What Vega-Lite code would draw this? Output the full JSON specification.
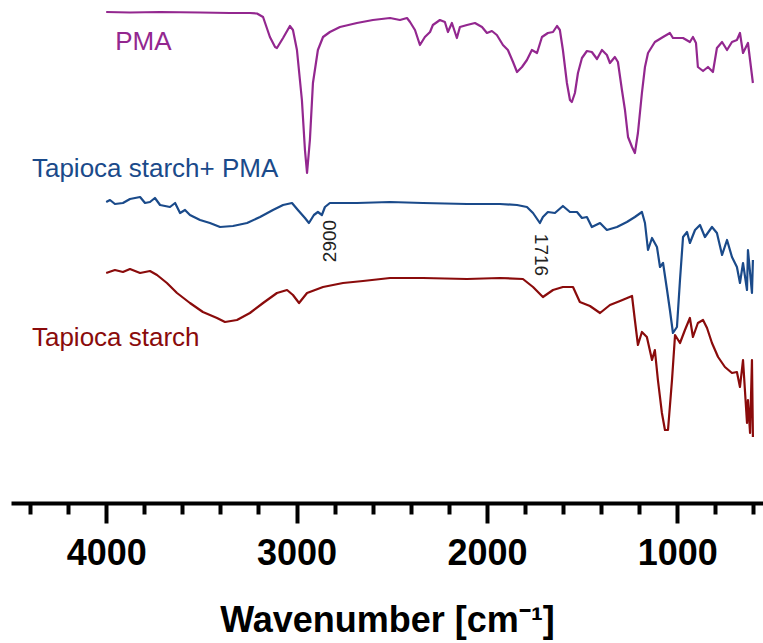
{
  "$schema": "https://vega.github.io/schema/vega-lite/v6.json",
  "width": 752,
  "height": 503,
  "autosize": {"type": "none"},
  "padding": {"left": 11, "top": 0, "right": 0, "bottom": 140},
  "background": "white",
  "config": {"view": {"stroke": null}, "font": "Liberation Sans"},
  "datasets": {
    "spectra": [
      {"series": "PMA", "wn": 4000, "t": 491}, {"series": "PMA", "wn": 3875, "t": 490.5}, {"series": "PMA", "wn": 3717, "t": 491}, {"series": "PMA", "wn": 3507, "t": 490.5}, {"series": "PMA", "wn": 3350, "t": 490}, {"series": "PMA", "wn": 3245, "t": 490}, {"series": "PMA", "wn": 3208, "t": 489.5}, {"series": "PMA", "wn": 3176, "t": 486}, {"series": "PMA", "wn": 3140, "t": 466}, {"series": "PMA", "wn": 3113, "t": 456}, {"series": "PMA", "wn": 3103, "t": 455}, {"series": "PMA", "wn": 3071, "t": 465}, {"series": "PMA", "wn": 3035, "t": 477}, {"series": "PMA", "wn": 3019, "t": 473}, {"series": "PMA", "wn": 2998, "t": 453}, {"series": "PMA", "wn": 2972, "t": 403}, {"series": "PMA", "wn": 2956, "t": 353}, {"series": "PMA", "wn": 2945, "t": 330}, {"series": "PMA", "wn": 2930, "t": 363}, {"series": "PMA", "wn": 2914, "t": 420}, {"series": "PMA", "wn": 2888, "t": 453}, {"series": "PMA", "wn": 2861, "t": 466}, {"series": "PMA", "wn": 2825, "t": 471}, {"series": "PMA", "wn": 2772, "t": 476}, {"series": "PMA", "wn": 2683, "t": 480}, {"series": "PMA", "wn": 2599, "t": 483}, {"series": "PMA", "wn": 2509, "t": 485}, {"series": "PMA", "wn": 2457, "t": 483}, {"series": "PMA", "wn": 2420, "t": 485}, {"series": "PMA", "wn": 2404, "t": 481}, {"series": "PMA", "wn": 2378, "t": 473}, {"series": "PMA", "wn": 2352, "t": 458}, {"series": "PMA", "wn": 2326, "t": 466}, {"series": "PMA", "wn": 2299, "t": 471}, {"series": "PMA", "wn": 2284, "t": 478}, {"series": "PMA", "wn": 2247, "t": 483}, {"series": "PMA", "wn": 2221, "t": 481}, {"series": "PMA", "wn": 2205, "t": 471}, {"series": "PMA", "wn": 2184, "t": 480}, {"series": "PMA", "wn": 2158, "t": 465}, {"series": "PMA", "wn": 2142, "t": 476}, {"series": "PMA", "wn": 2105, "t": 478}, {"series": "PMA", "wn": 2063, "t": 480}, {"series": "PMA", "wn": 2026, "t": 476}, {"series": "PMA", "wn": 2000, "t": 470}, {"series": "PMA", "wn": 1974, "t": 472}, {"series": "PMA", "wn": 1948, "t": 468}, {"series": "PMA", "wn": 1916, "t": 458}, {"series": "PMA", "wn": 1890, "t": 453}, {"series": "PMA", "wn": 1863, "t": 441}, {"series": "PMA", "wn": 1842, "t": 431}, {"series": "PMA", "wn": 1816, "t": 436}, {"series": "PMA", "wn": 1790, "t": 443}, {"series": "PMA", "wn": 1764, "t": 453}, {"series": "PMA", "wn": 1737, "t": 450}, {"series": "PMA", "wn": 1711, "t": 466}, {"series": "PMA", "wn": 1680, "t": 470}, {"series": "PMA", "wn": 1653, "t": 471}, {"series": "PMA", "wn": 1632, "t": 477}, {"series": "PMA", "wn": 1617, "t": 473}, {"series": "PMA", "wn": 1601, "t": 453}, {"series": "PMA", "wn": 1580, "t": 420}, {"series": "PMA", "wn": 1564, "t": 403}, {"series": "PMA", "wn": 1554, "t": 401}, {"series": "PMA", "wn": 1538, "t": 410}, {"series": "PMA", "wn": 1522, "t": 430}, {"series": "PMA", "wn": 1501, "t": 445}, {"series": "PMA", "wn": 1475, "t": 452}, {"series": "PMA", "wn": 1449, "t": 451}, {"series": "PMA", "wn": 1422, "t": 444}, {"series": "PMA", "wn": 1396, "t": 453}, {"series": "PMA", "wn": 1370, "t": 448}, {"series": "PMA", "wn": 1354, "t": 440}, {"series": "PMA", "wn": 1328, "t": 446}, {"series": "PMA", "wn": 1312, "t": 441}, {"series": "PMA", "wn": 1291, "t": 413}, {"series": "PMA", "wn": 1275, "t": 393}, {"series": "PMA", "wn": 1259, "t": 366}, {"series": "PMA", "wn": 1238, "t": 356}, {"series": "PMA", "wn": 1223, "t": 350}, {"series": "PMA", "wn": 1207, "t": 370}, {"series": "PMA", "wn": 1186, "t": 410}, {"series": "PMA", "wn": 1170, "t": 436}, {"series": "PMA", "wn": 1154, "t": 450}, {"series": "PMA", "wn": 1118, "t": 461}, {"series": "PMA", "wn": 1075, "t": 466}, {"series": "PMA", "wn": 1039, "t": 470}, {"series": "PMA", "wn": 1023, "t": 465}, {"series": "PMA", "wn": 970, "t": 465}, {"series": "PMA", "wn": 934, "t": 461}, {"series": "PMA", "wn": 918, "t": 466}, {"series": "PMA", "wn": 902, "t": 460}, {"series": "PMA", "wn": 892, "t": 436}, {"series": "PMA", "wn": 865, "t": 432}, {"series": "PMA", "wn": 839, "t": 436}, {"series": "PMA", "wn": 813, "t": 431}, {"series": "PMA", "wn": 792, "t": 455}, {"series": "PMA", "wn": 765, "t": 461}, {"series": "PMA", "wn": 739, "t": 453}, {"series": "PMA", "wn": 713, "t": 461}, {"series": "PMA", "wn": 687, "t": 463}, {"series": "PMA", "wn": 671, "t": 470}, {"series": "PMA", "wn": 655, "t": 450}, {"series": "PMA", "wn": 629, "t": 460}, {"series": "PMA", "wn": 603, "t": 420},

      {"series": "Tapioca starch+ PMA", "wn": 4000, "t": 301}, {"series": "Tapioca starch+ PMA", "wn": 3980, "t": 303}, {"series": "Tapioca starch+ PMA", "wn": 3954, "t": 299}, {"series": "Tapioca starch+ PMA", "wn": 3912, "t": 300}, {"series": "Tapioca starch+ PMA", "wn": 3875, "t": 304}, {"series": "Tapioca starch+ PMA", "wn": 3822, "t": 306}, {"series": "Tapioca starch+ PMA", "wn": 3796, "t": 300}, {"series": "Tapioca starch+ PMA", "wn": 3770, "t": 301}, {"series": "Tapioca starch+ PMA", "wn": 3744, "t": 305}, {"series": "Tapioca starch+ PMA", "wn": 3717, "t": 298}, {"series": "Tapioca starch+ PMA", "wn": 3665, "t": 296}, {"series": "Tapioca starch+ PMA", "wn": 3638, "t": 300}, {"series": "Tapioca starch+ PMA", "wn": 3612, "t": 290}, {"series": "Tapioca starch+ PMA", "wn": 3586, "t": 293}, {"series": "Tapioca starch+ PMA", "wn": 3560, "t": 288}, {"series": "Tapioca starch+ PMA", "wn": 3507, "t": 283}, {"series": "Tapioca starch+ PMA", "wn": 3455, "t": 280}, {"series": "Tapioca starch+ PMA", "wn": 3402, "t": 276}, {"series": "Tapioca starch+ PMA", "wn": 3334, "t": 277}, {"series": "Tapioca starch+ PMA", "wn": 3260, "t": 280}, {"series": "Tapioca starch+ PMA", "wn": 3192, "t": 286}, {"series": "Tapioca starch+ PMA", "wn": 3124, "t": 293}, {"series": "Tapioca starch+ PMA", "wn": 3071, "t": 298}, {"series": "Tapioca starch+ PMA", "wn": 3024, "t": 300}, {"series": "Tapioca starch+ PMA", "wn": 2993, "t": 293}, {"series": "Tapioca starch+ PMA", "wn": 2956, "t": 285}, {"series": "Tapioca starch+ PMA", "wn": 2935, "t": 280}, {"series": "Tapioca starch+ PMA", "wn": 2909, "t": 288}, {"series": "Tapioca starch+ PMA", "wn": 2888, "t": 291}, {"series": "Tapioca starch+ PMA", "wn": 2867, "t": 288}, {"series": "Tapioca starch+ PMA", "wn": 2851, "t": 296}, {"series": "Tapioca starch+ PMA", "wn": 2825, "t": 300}, {"series": "Tapioca starch+ PMA", "wn": 2683, "t": 300}, {"series": "Tapioca starch+ PMA", "wn": 2509, "t": 301}, {"series": "Tapioca starch+ PMA", "wn": 2336, "t": 300}, {"series": "Tapioca starch+ PMA", "wn": 2105, "t": 299}, {"series": "Tapioca starch+ PMA", "wn": 1932, "t": 299}, {"series": "Tapioca starch+ PMA", "wn": 1842, "t": 298}, {"series": "Tapioca starch+ PMA", "wn": 1790, "t": 296}, {"series": "Tapioca starch+ PMA", "wn": 1758, "t": 290}, {"series": "Tapioca starch+ PMA", "wn": 1722, "t": 280}, {"series": "Tapioca starch+ PMA", "wn": 1706, "t": 286}, {"series": "Tapioca starch+ PMA", "wn": 1680, "t": 291}, {"series": "Tapioca starch+ PMA", "wn": 1643, "t": 290}, {"series": "Tapioca starch+ PMA", "wn": 1601, "t": 297}, {"series": "Tapioca starch+ PMA", "wn": 1564, "t": 291}, {"series": "Tapioca starch+ PMA", "wn": 1527, "t": 291}, {"series": "Tapioca starch+ PMA", "wn": 1501, "t": 285}, {"series": "Tapioca starch+ PMA", "wn": 1475, "t": 286}, {"series": "Tapioca starch+ PMA", "wn": 1449, "t": 276}, {"series": "Tapioca starch+ PMA", "wn": 1406, "t": 280}, {"series": "Tapioca starch+ PMA", "wn": 1370, "t": 273}, {"series": "Tapioca starch+ PMA", "wn": 1317, "t": 276}, {"series": "Tapioca starch+ PMA", "wn": 1265, "t": 281}, {"series": "Tapioca starch+ PMA", "wn": 1223, "t": 286}, {"series": "Tapioca starch+ PMA", "wn": 1186, "t": 291}, {"series": "Tapioca starch+ PMA", "wn": 1170, "t": 280}, {"series": "Tapioca starch+ PMA", "wn": 1154, "t": 253}, {"series": "Tapioca starch+ PMA", "wn": 1133, "t": 265}, {"series": "Tapioca starch+ PMA", "wn": 1107, "t": 256}, {"series": "Tapioca starch+ PMA", "wn": 1091, "t": 236}, {"series": "Tapioca starch+ PMA", "wn": 1075, "t": 240}, {"series": "Tapioca starch+ PMA", "wn": 1054, "t": 213}, {"series": "Tapioca starch+ PMA", "wn": 1039, "t": 193}, {"series": "Tapioca starch+ PMA", "wn": 1023, "t": 170}, {"series": "Tapioca starch+ PMA", "wn": 1002, "t": 176}, {"series": "Tapioca starch+ PMA", "wn": 986, "t": 223}, {"series": "Tapioca starch+ PMA", "wn": 970, "t": 266}, {"series": "Tapioca starch+ PMA", "wn": 949, "t": 271}, {"series": "Tapioca starch+ PMA", "wn": 934, "t": 260}, {"series": "Tapioca starch+ PMA", "wn": 907, "t": 273}, {"series": "Tapioca starch+ PMA", "wn": 881, "t": 278}, {"series": "Tapioca starch+ PMA", "wn": 855, "t": 266}, {"series": "Tapioca starch+ PMA", "wn": 818, "t": 276}, {"series": "Tapioca starch+ PMA", "wn": 792, "t": 270}, {"series": "Tapioca starch+ PMA", "wn": 765, "t": 248}, {"series": "Tapioca starch+ PMA", "wn": 739, "t": 263}, {"series": "Tapioca starch+ PMA", "wn": 713, "t": 246}, {"series": "Tapioca starch+ PMA", "wn": 687, "t": 236}, {"series": "Tapioca starch+ PMA", "wn": 671, "t": 220}, {"series": "Tapioca starch+ PMA", "wn": 655, "t": 240}, {"series": "Tapioca starch+ PMA", "wn": 634, "t": 213}, {"series": "Tapioca starch+ PMA", "wn": 629, "t": 253}, {"series": "Tapioca starch+ PMA", "wn": 608, "t": 210}, {"series": "Tapioca starch+ PMA", "wn": 603, "t": 243},

      {"series": "Tapioca starch", "wn": 4000, "t": 230}, {"series": "Tapioca starch", "wn": 3954, "t": 233}, {"series": "Tapioca starch", "wn": 3912, "t": 231}, {"series": "Tapioca starch", "wn": 3875, "t": 234}, {"series": "Tapioca starch", "wn": 3822, "t": 230}, {"series": "Tapioca starch", "wn": 3770, "t": 232}, {"series": "Tapioca starch", "wn": 3733, "t": 228}, {"series": "Tapioca starch", "wn": 3681, "t": 220}, {"series": "Tapioca starch", "wn": 3628, "t": 210}, {"series": "Tapioca starch", "wn": 3560, "t": 200}, {"series": "Tapioca starch", "wn": 3492, "t": 191}, {"series": "Tapioca starch", "wn": 3418, "t": 185}, {"series": "Tapioca starch", "wn": 3376, "t": 181}, {"series": "Tapioca starch", "wn": 3313, "t": 183}, {"series": "Tapioca starch", "wn": 3245, "t": 190}, {"series": "Tapioca starch", "wn": 3176, "t": 200}, {"series": "Tapioca starch", "wn": 3103, "t": 210}, {"series": "Tapioca starch", "wn": 3050, "t": 213}, {"series": "Tapioca starch", "wn": 3019, "t": 208}, {"series": "Tapioca starch", "wn": 2987, "t": 200}, {"series": "Tapioca starch", "wn": 2945, "t": 210}, {"series": "Tapioca starch", "wn": 2861, "t": 216}, {"series": "Tapioca starch", "wn": 2756, "t": 220}, {"series": "Tapioca starch", "wn": 2651, "t": 222}, {"series": "Tapioca starch", "wn": 2509, "t": 225}, {"series": "Tapioca starch", "wn": 2336, "t": 225}, {"series": "Tapioca starch", "wn": 2105, "t": 224}, {"series": "Tapioca starch", "wn": 1932, "t": 225}, {"series": "Tapioca starch", "wn": 1811, "t": 224}, {"series": "Tapioca starch", "wn": 1758, "t": 216}, {"series": "Tapioca starch", "wn": 1706, "t": 206}, {"series": "Tapioca starch", "wn": 1653, "t": 213}, {"series": "Tapioca starch", "wn": 1601, "t": 216}, {"series": "Tapioca starch", "wn": 1548, "t": 216}, {"series": "Tapioca starch", "wn": 1512, "t": 201}, {"series": "Tapioca starch", "wn": 1459, "t": 197}, {"series": "Tapioca starch", "wn": 1406, "t": 190}, {"series": "Tapioca starch", "wn": 1354, "t": 198}, {"series": "Tapioca starch", "wn": 1301, "t": 202}, {"series": "Tapioca starch", "wn": 1238, "t": 207}, {"series": "Tapioca starch", "wn": 1223, "t": 183}, {"series": "Tapioca starch", "wn": 1207, "t": 158}, {"series": "Tapioca starch", "wn": 1186, "t": 171}, {"series": "Tapioca starch", "wn": 1160, "t": 166}, {"series": "Tapioca starch", "wn": 1133, "t": 143}, {"series": "Tapioca starch", "wn": 1118, "t": 153}, {"series": "Tapioca starch", "wn": 1102, "t": 123}, {"series": "Tapioca starch", "wn": 1081, "t": 90}, {"series": "Tapioca starch", "wn": 1065, "t": 73}, {"series": "Tapioca starch", "wn": 1049, "t": 73}, {"series": "Tapioca starch", "wn": 1028, "t": 123}, {"series": "Tapioca starch", "wn": 1012, "t": 168}, {"series": "Tapioca starch", "wn": 986, "t": 160}, {"series": "Tapioca starch", "wn": 960, "t": 173}, {"series": "Tapioca starch", "wn": 934, "t": 185}, {"series": "Tapioca starch", "wn": 918, "t": 166}, {"series": "Tapioca starch", "wn": 892, "t": 180}, {"series": "Tapioca starch", "wn": 865, "t": 183}, {"series": "Tapioca starch", "wn": 844, "t": 175}, {"series": "Tapioca starch", "wn": 818, "t": 160}, {"series": "Tapioca starch", "wn": 786, "t": 146}, {"series": "Tapioca starch", "wn": 750, "t": 136}, {"series": "Tapioca starch", "wn": 713, "t": 130}, {"series": "Tapioca starch", "wn": 687, "t": 131}, {"series": "Tapioca starch", "wn": 671, "t": 116}, {"series": "Tapioca starch", "wn": 655, "t": 143}, {"series": "Tapioca starch", "wn": 634, "t": 80}, {"series": "Tapioca starch", "wn": 629, "t": 103}, {"series": "Tapioca starch", "wn": 618, "t": 70}, {"series": "Tapioca starch", "wn": 608, "t": 143}, {"series": "Tapioca starch", "wn": 603, "t": 66}
    ],
    "names": [
      {"series": "PMA", "wn": 3953, "t": 453},
      {"series": "Tapioca starch+ PMA", "wn": 4390, "t": 326},
      {"series": "Tapioca starch", "wn": 4390, "t": 157}
    ],
    "peaks": [
      {"label": "2900", "wn": 2900, "t": 262},
      {"label": "1716", "wn": 1716, "t": 248}
    ]
  },
  "encoding": {
    "x": {"field": "wn", "type": "quantitative", "scale": {"domain": [4500, 550], "nice": false, "zero": false}, "axis": null},
    "y": {"field": "t", "type": "quantitative", "scale": {"domain": [0, 503], "nice": false, "zero": false}, "axis": null}
  },
  "layer": [
    {
      "data": {"name": "spectra"},
      "mark": {"type": "line", "strokeWidth": 2.2, "strokeJoin": "round"},
      "encoding": {
        "x": {"field": "wn", "type": "quantitative", "axis": {"orient": "bottom", "values": [4400, 4200, 3800, 3600, 3400, 3200, 2800, 2600, 2400, 2200, 1800, 1600, 1400, 1200, 800, 600], "labels": false, "title": null, "grid": false, "tickSize": 11, "tickWidth": 4, "tickColor": "black", "domainWidth": 4, "domainColor": "black"}},
        "color": {"field": "series", "type": "nominal", "scale": {"domain": ["PMA", "Tapioca starch+ PMA", "Tapioca starch"], "range": ["#93278F", "#1A4A8A", "#8A0B0B"]}, "legend": null}
      }
    },
    {
      "data": {"name": "names"},
      "mark": {"type": "text", "align": "left", "baseline": "alphabetic", "fontSize": 26, "font": "Liberation Sans"},
      "encoding": {
        "x": {"field": "wn", "type": "quantitative", "axis": {"orient": "bottom", "values": [4000, 3000, 2000, 1000], "format": "d", "domain": false, "grid": false, "tickSize": 20, "tickWidth": 4, "tickColor": "black", "labelFontSize": 36, "labelFontWeight": "bold", "labelColor": "black", "labelFont": "Liberation Sans", "labelPadding": 13, "title": "Wavenumber [cm⁻¹]", "titleFont": "Liberation Sans", "titleFontSize": 36, "titleFontWeight": "bold", "titleColor": "black", "titlePadding": 32}},
        "text": {"field": "series"},
        "color": {"field": "series", "type": "nominal", "legend": null}
      }
    },
    {
      "data": {"name": "peaks"},
      "mark": {"type": "text", "align": "center", "baseline": "middle", "fontSize": 19, "font": "Liberation Sans", "color": "#222222", "angle": 270, "dy": 14},
      "transform": [{"filter": "datum.label == '2900'"}],
      "encoding": {"text": {"field": "label"}}
    },
    {
      "data": {"name": "peaks"},
      "mark": {"type": "text", "align": "center", "baseline": "middle", "fontSize": 19, "font": "Liberation Sans", "color": "#222222", "angle": 90},
      "transform": [{"filter": "datum.label == '1716'"}],
      "encoding": {"text": {"field": "label"}}
    }
  ],
  "resolve": {"axis": {"x": "independent"}}
}
